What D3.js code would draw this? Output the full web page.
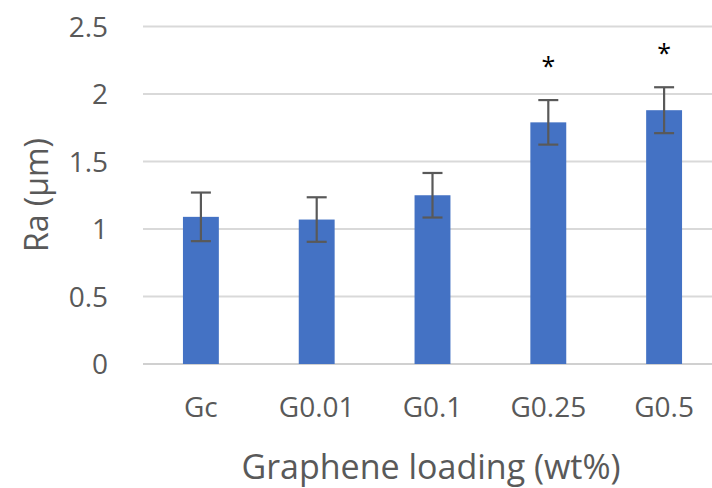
<!DOCTYPE html>
<html>
<head>
<meta charset="utf-8">
<script src="https://cdn.jsdelivr.net/npm/d3@7"></script>
<style>
  html, body { margin: 0; padding: 0; background: #fff; }
  #chart text { font-family: "Open Sans", "Noto Sans", sans-serif; fill: #595959; }
</style>
</head>
<body>
<div id="chart"></div>
<script>
const categories = ["Gc", "G0.01", "G0.1", "G0.25", "G0.5"];
const raMean = [1.09, 1.07, 1.25, 1.79, 1.88];
const raErr = [0.18, 0.165, 0.165, 0.165, 0.17];
const significant = [false, false, false, true, true];
const yTicks = [0, 0.5, 1, 1.5, 2, 2.5];

const width = 712, height = 488;
const svg = d3.select('#chart')
    .append('svg')
    .attr('width', width)
    .attr('height', height);

const x = d3.scaleBand()
    .domain(categories)
    .range([143, 722])
    .paddingInner(0.69)
    .paddingOuter(0.345);

const y = d3.scaleLinear()
    .domain([0, 2.5])
    .range([364, 26.5]);

// gridlines
svg.append("g")
    .selectAll("line")
    .data(yTicks)
    .enter()
    .append("line")
    .attr("x1", 143)
    .attr("x2", width)
    .attr("y1", d => y(d))
    .attr("y2", d => y(d))
    .attr("stroke", d => d === 0 ? "#d0d0d0" : "#d9d9d9")
    .attr("stroke-width", 2);

// y tick labels
const yAxis = svg.append("g")
    .attr("transform", "translate(143,0)")
    .call(d3.axisLeft(y).tickValues(yTicks).tickSize(0).tickPadding(35).tickFormat(d3.format("")));
yAxis.select(".domain").remove();
yAxis.selectAll("text")
    .style("font-size", "28px")
    .attr("dy", "0.35em");

// x tick labels
const xAxis = svg.append("g")
    .attr("transform", "translate(0,364)")
    .call(d3.axisBottom(x).tickSize(0).tickPadding(33));
xAxis.select(".domain").remove();
xAxis.selectAll("text")
    .style("font-size", "28px");

// bars
svg.append("g")
    .selectAll("rect")
    .data(categories)
    .enter()
    .append("rect")
    .attr("x", d => x(d))
    .attr("width", x.bandwidth())
    .attr("y", (d, i) => y(raMean[i]))
    .attr("height", (d, i) => y(0) - y(raMean[i]))
    .attr("fill", "#4472c4");

// error bars
const err = svg.append("g")
    .attr("stroke", "#595959")
    .attr("stroke-width", 2.2);
categories.forEach((c, i) => {
    const cx = x(c) + x.bandwidth() / 2;
    const top = y(raMean[i] + raErr[i]);
    const bot = y(raMean[i] - raErr[i]);
    err.append("line").attr("x1", cx).attr("x2", cx).attr("y1", top).attr("y2", bot);
    err.append("line").attr("x1", cx - 10).attr("x2", cx + 10).attr("y1", top).attr("y2", top);
    err.append("line").attr("x1", cx - 10).attr("x2", cx + 10).attr("y1", bot).attr("y2", bot);
});

// significance marks
svg.append("g")
    .selectAll("text")
    .data(categories.filter((c, i) => significant[i]))
    .enter()
    .append("text")
    .attr("x", d => x(d) + x.bandwidth() / 2)
    .attr("y", d => y(raMean[categories.indexOf(d)] + raErr[categories.indexOf(d)]) - 25)
    .attr("text-anchor", "middle")
    .style("font-size", "25px")
    .style("fill", "#000")
    .text("*");

// axis titles
svg.append("text")
    .attr("x", 431)
    .attr("y", 479)
    .attr("text-anchor", "middle")
    .style("font-size", "34px")
    .text("Graphene loading (wt%)");

svg.append("text")
    .attr("transform", "translate(48,195) rotate(-90)")
    .attr("text-anchor", "middle")
    .style("font-size", "32px")
    .text("Ra (µm)");
</script>
</body>
</html>
